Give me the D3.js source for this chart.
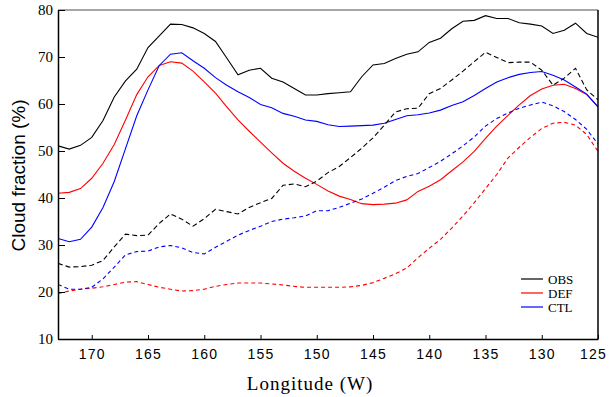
<!DOCTYPE html>
<html>
<head>
<meta charset="utf-8">
<script src="https://cdn.jsdelivr.net/npm/d3@7"></script>
<style>
  body { margin: 0; background: #fff; }
  #chart { width: 609px; height: 397px; }
</style>
</head>
<body>
<div id="chart"></div>
<script>
// Longitude (degrees W), one value per degree
const lon = [173, 172, 171, 170, 169, 168, 167, 166, 165, 164, 163, 162, 161, 160, 159, 158, 157,
  156, 155, 154, 153, 152, 151, 150, 149, 148, 147, 146, 145, 144, 143, 142, 141, 140, 139, 138,
  137, 136, 135, 134, 133, 132, 131, 130, 129, 128, 127, 126, 125];

// solid lines
const obs = [51.1, 50.4, 51.2, 52.9, 56.5, 61.5, 64.9, 67.4, 72.0, 74.5, 77.0, 76.9, 76.2, 75.0, 73.3,
  69.8, 66.2, 67.2, 67.6, 65.5, 64.7, 63.3, 61.9, 61.9, 62.2, 62.4, 62.6, 65.8, 68.3, 68.6, 69.7,
  70.6, 71.1, 73.1, 74.0, 76.0, 77.6, 77.8, 78.8, 78.2, 78.2, 77.3, 77.0, 76.6, 75.0, 75.7, 77.2,
  75.0, 74.2];
const def = [41.0, 41.2, 42.0, 44.2, 47.4, 51.4, 56.6, 62.0, 65.8, 68.2, 69.0, 68.7, 67.0, 64.7, 62.3,
  59.4, 56.6, 54.2, 51.9, 49.6, 47.4, 45.7, 44.2, 42.9, 41.5, 40.4, 39.7, 38.8, 38.6, 38.7, 38.9,
  39.6, 41.4, 42.5, 43.9, 45.8, 47.7, 49.9, 52.7, 55.3, 57.6, 59.8, 61.8, 63.2, 64.0, 64.2, 63.3,
  62.0, 59.4];
const ctl = [31.4, 30.7, 31.2, 33.8, 38.0, 43.5, 50.5, 57.5, 63.0, 68.2, 70.6, 70.9, 69.2, 67.6, 65.6,
  64.0, 62.6, 61.4, 59.9, 59.2, 58.0, 57.4, 56.6, 56.3, 55.6, 55.2, 55.3, 55.4, 55.5, 55.9, 56.7,
  57.5, 57.7, 58.1, 58.7, 59.7, 60.5, 61.8, 63.3, 64.7, 65.6, 66.3, 66.7, 66.9, 66.1, 65.1, 63.6,
  62.1, 59.4];

// dashed lines
const obsDash = [26.1, 25.3, 25.4, 25.7, 26.7, 29.6, 32.3, 32.0, 32.1, 34.6, 36.6, 35.5, 34.0, 35.6,
  37.6, 37.1, 36.6, 38.0, 39.0, 39.9, 42.7, 43.0, 42.4, 43.6, 45.4, 46.7, 48.6, 50.6, 52.8, 55.5,
  58.3, 59.0, 59.1, 62.2, 63.3, 65.1, 67.0, 69.0, 71.0, 69.9, 68.8, 68.9, 68.9, 67.2, 64.0, 65.5,
  67.6, 63.0, 60.9];
const defDash = [19.7, 20.2, 20.6, 20.8, 21.1, 21.6, 22.1, 22.2, 21.6, 21.0, 20.6, 20.2, 20.3, 20.6,
  21.2, 21.6, 21.9, 21.9, 21.9, 21.7, 21.5, 21.2, 21.0, 21.0, 21.0, 21.0, 21.1, 21.4, 22.0, 22.9,
  23.9, 25.1, 27.3, 29.3, 31.2, 33.6, 36.2, 39.0, 42.0, 45.0, 48.5, 50.8, 52.9, 54.8, 55.9, 56.1,
  55.5, 53.5, 49.9];
const ctlDash = [21.6, 20.6, 20.6, 21.0, 22.8, 25.3, 27.9, 28.6, 28.7, 29.6, 29.9, 29.4, 28.4, 28.1,
  29.5, 30.8, 32.1, 33.1, 34.0, 35.0, 35.5, 35.8, 36.2, 37.3, 37.3, 38.0, 38.9, 39.8, 41.0, 42.3,
  43.7, 44.6, 45.2, 46.5, 47.8, 49.4, 51.1, 53.0, 55.3, 56.9, 58.1, 59.1, 59.8, 60.4, 59.6, 58.4,
  56.7, 54.6, 51.5];

const xTicks = [170, 165, 160, 155, 150, 145, 140, 135, 130, 125];
const yTicks = [10, 20, 30, 40, 50, 60, 70, 80];

const legendNames = ["OBS", "DEF", "CTL"];

const width = 609;
const height = 397;
const margin = { top: 10, right: 11, bottom: 58, left: 58 };
const innerW = width - margin.left - margin.right;
const innerH = height - margin.top - margin.bottom;

const svg = d3.select("#chart")
  .append("svg")
  .attr("width", width)
  .attr("height", height);

const g = svg.append("g")
  .attr("transform", `translate(${margin.left},${margin.top})`);

// Scales (longitude runs west to east, so reversed)
const x = d3.scaleLinear().domain([173, 125]).range([0, innerW]);
const y = d3.scaleLinear().domain([10, 80]).range([innerH, 0]);

g.append("clipPath").attr("id", "plot-clip")
  .append("rect").attr("width", innerW).attr("height", innerH);

// Series definitions
const series = [
  { values: obs, color: "#000000", dash: null },
  { values: def, color: "#ff0000", dash: null },
  { values: ctl, color: "#0000ff", dash: null },
  { values: obsDash, color: "#000000", dash: "5,3" },
  { values: defDash, color: "#ff0000", dash: "4,3" },
  { values: ctlDash, color: "#0000ff", dash: "4,3" }
];

const line = d3.line()
  .x((d, i) => x(lon[i]))
  .y((d) => y(d));

g.append("g")
  .attr("clip-path", "url(#plot-clip)")
  .selectAll("path")
  .data(series)
  .enter()
  .append("path")
  .attr("d", (s) => line(s.values))
  .attr("fill", "none")
  .attr("stroke", (s) => s.color)
  .attr("stroke-width", 1.1)
  .attr("stroke-dasharray", (s) => s.dash);

// Frame: grey top, black right
g.append("line")
  .attr("x1", 0).attr("x2", innerW).attr("y1", 0).attr("y2", 0)
  .attr("stroke", "#888").attr("stroke-width", 1.5);
g.append("line")
  .attr("x1", innerW).attr("x2", innerW).attr("y1", 0).attr("y2", innerH)
  .attr("stroke", "#000").attr("stroke-width", 1.5);

// Axes with inward ticks
const xAxis = g.append("g")
  .attr("transform", `translate(0,${innerH})`)
  .call(d3.axisBottom(x).tickValues(xTicks).tickSize(-4).tickSizeOuter(0).tickPadding(10));
xAxis.select(".domain").attr("stroke", "#000").attr("stroke-width", 1.5);
xAxis.selectAll("text")
  .attr("font-family", "'Liberation Sans', Arial, sans-serif")
  .attr("font-size", "14px")
  .attr("letter-spacing", "1.2px")
  .attr("fill", "#000");
// last label sits against the window edge, nudge it in
xAxis.selectAll(".tick")
  .filter((d) => d === 125)
  .select("text")
  .attr("dx", -5);

const yAxis = g.append("g")
  .call(d3.axisLeft(y).tickValues(yTicks).tickSize(-7).tickSizeOuter(0).tickPadding(5));
yAxis.select(".domain").attr("stroke", "#000").attr("stroke-width", 1.5);
yAxis.selectAll("text")
  .attr("font-family", "'Liberation Serif', 'Times New Roman', serif")
  .attr("font-size", "15px")
  .attr("fill", "#000");

// Axis titles
svg.append("text")
  .attr("transform", `translate(25,${margin.top + innerH / 2 + 1}) rotate(-90)`)
  .attr("text-anchor", "middle")
  .attr("font-family", "'Liberation Sans', Arial, sans-serif")
  .attr("font-size", "19px")
  .text("Cloud fraction (%)");

svg.append("text")
  .attr("x", 310)
  .attr("y", 390)
  .attr("text-anchor", "middle")
  .attr("font-family", "'Liberation Serif', 'Times New Roman', serif")
  .attr("font-size", "19px")
  .attr("letter-spacing", "1px")
  .text("Longitude (W)");

// Legend
const legend = svg.append("g").attr("transform", "translate(521,279)");
legendNames.forEach((name, i) => {
  legend.append("line")
    .attr("x1", 0).attr("x2", 22)
    .attr("y1", i * 14).attr("y2", i * 14)
    .attr("stroke", series[i].color)
    .attr("stroke-width", 1.2);
  legend.append("text")
    .attr("x", 27)
    .attr("y", i * 14 + 4.5)
    .attr("font-family", "'Liberation Serif', 'Times New Roman', serif")
    .attr("font-size", "13px")
    .text(name);
});
</script>
</body>
</html>
